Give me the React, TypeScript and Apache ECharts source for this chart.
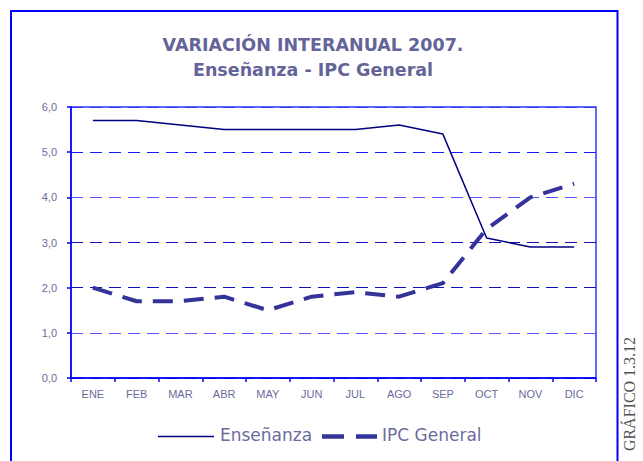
import React, { useEffect, useRef } from "react";
import * as echarts from "echarts";

const months = ["ENE", "FEB", "MAR", "ABR", "MAY", "JUN", "JUL", "AGO", "SEP", "OCT", "NOV", "DIC"];
const ensenanza = [5.7, 5.7, 5.6, 5.5, 5.5, 5.5, 5.5, 5.6, 5.4, 3.1, 2.9, 2.9];
const ipcGeneral = [2.0, 1.7, 1.7, 1.8, 1.5, 1.8, 1.9, 1.8, 2.1, 3.3, 4.0, 4.3];
const seriesNames = ["Enseñanza", "IPC General"];
const titleLines = ["VARIACIÓN INTERANUAL 2007.", "Enseñanza - IPC General"];
const sideNote = "GRÁFICO 1.3.12";

export default function App() {
  const ref = useRef<HTMLDivElement>(null);
  useEffect(() => {
    if (!ref.current) return;
    const chart = echarts.init(ref.current, null, { renderer: "svg" });
    const labelColor = "#6b6b9e";
    const solidColor = "#000080";
    const dashColor = "#333399";
    chart.setOption({
      animation: false,
      backgroundColor: "#ffffff",
      title: {
        text: titleLines.join("\n"),
        left: 313,
        textAlign: "center",
        top: 33,
        padding: 0,
        textStyle: {
          fontFamily: "DejaVu Sans",
          fontWeight: "bold",
          fontSize: 17.5,
          color: "#646499",
          lineHeight: 24.5,
        },
      },
      grid: {
        left: 71,
        right: 47,
        top: 107,
        bottom: 83,
        show: true,
        borderColor: "#3333ff",
        borderWidth: 1.5,
        backgroundColor: "transparent",
      },
      xAxis: {
        type: "category",
        data: months,
        boundaryGap: true,
        axisLine: { lineStyle: { color: "#0000ff", width: 1.5 } },
        axisTick: { show: true, length: 4, lineStyle: { color: "#0000ff", width: 1.5 } },
        axisLabel: {
          color: labelColor,
          fontFamily: "Liberation Sans",
          fontSize: 11,
          margin: 10,
        },
      },
      yAxis: {
        type: "value",
        min: 0,
        max: 6,
        interval: 1,
        axisLine: { show: true, lineStyle: { color: "#0000ff", width: 1.5 } },
        axisTick: { show: true, length: 4, lineStyle: { color: "#0000ff", width: 1.5 } },
        axisLabel: {
          color: labelColor,
          fontFamily: "Liberation Sans",
          fontSize: 11,
          margin: 14,
          formatter: (v: number) => v.toFixed(1).replace(".", ","),
        },
        splitLine: {
          show: true,
          lineStyle: {
            color: ["#0000ff", "#5555ff", "#1010c0", "#1010c0", "#5555ff", "#1a1aff", "#3333ff"],
            type: [12, 7],
            width: 1,
          },
        },
      },
      series: [
        {
          name: seriesNames[0],
          type: "line",
          data: ensenanza,
          showSymbol: false,
          symbol: "none",
          lineStyle: { color: solidColor, width: 1.5 },
          itemStyle: { color: solidColor },
        },
        {
          name: seriesNames[1],
          type: "line",
          data: ipcGeneral,
          showSymbol: false,
          symbol: "none",
          lineStyle: { color: dashColor, width: 4, type: [20, 11] },
          itemStyle: { color: dashColor },
        },
      ],
      graphic: [
        {
          type: "rect",
          shape: { x: 11, y: 11, width: 606.5, height: 470 },
          style: { fill: "none", stroke: "#0000ff", lineWidth: 2 },
          silent: true,
        },
        {
          type: "line",
          shape: { x1: 158, y1: 436.5, x2: 214, y2: 436.5 },
          style: { stroke: solidColor, lineWidth: 1.5 },
          silent: true,
        },
        {
          type: "text",
          x: 220,
          y: 435,
          style: {
            text: seriesNames[0],
            fontFamily: "DejaVu Sans",
            fontSize: 17,
            fill: labelColor,
            align: "left",
            verticalAlign: "middle",
          },
        },
        {
          type: "line",
          shape: { x1: 322, y1: 436.5, x2: 377, y2: 436.5 },
          style: { stroke: dashColor, lineWidth: 4.5, lineDash: [22, 12] },
          silent: true,
        },
        {
          type: "text",
          x: 382,
          y: 435,
          style: {
            text: seriesNames[1],
            fontFamily: "DejaVu Sans",
            fontSize: 17,
            fill: labelColor,
            align: "left",
            verticalAlign: "middle",
          },
        },
        {
          type: "text",
          x: 629,
          y: 394,
          rotation: Math.PI / 2,
          style: {
            text: sideNote,
            fontFamily: "Liberation Serif",
            fontSize: 16,
            fill: "#505050",
            align: "center",
            verticalAlign: "middle",
          },
        },
      ],
    });
    return () => chart.dispose();
  }, []);
  return (
    <div
      ref={ref}
      style={{ position: "fixed", left: 0, top: 0, width: 643, height: 461 }}
    />
  );
}
